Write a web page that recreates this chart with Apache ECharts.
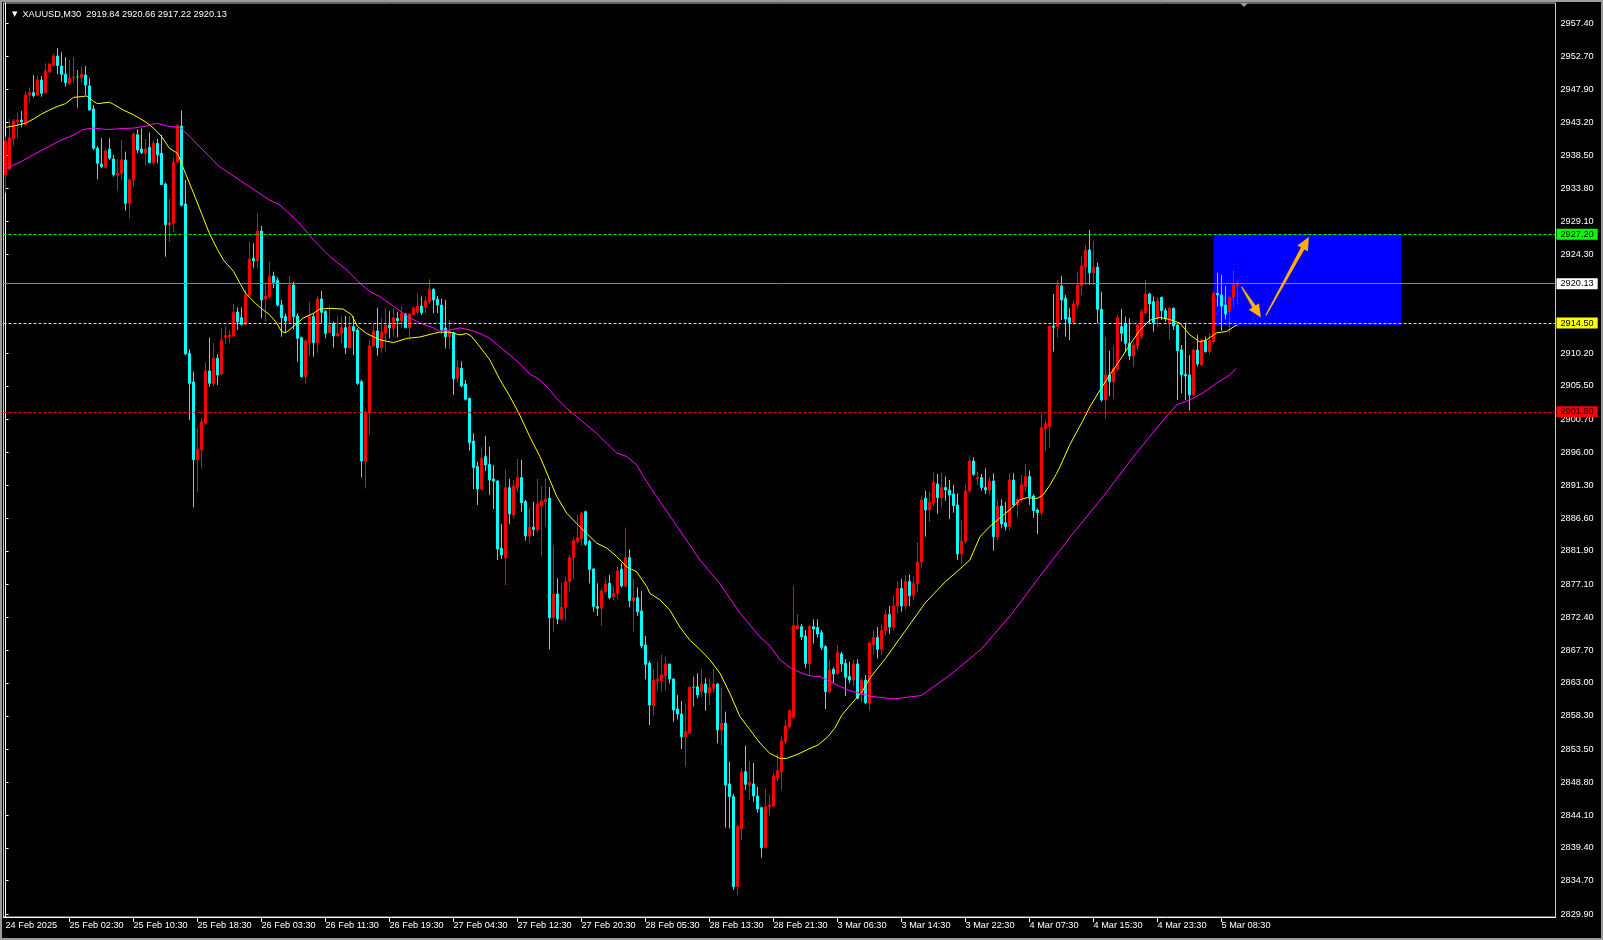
<!DOCTYPE html>
<html><head><meta charset="utf-8">
<script src="https://cdn.jsdelivr.net/npm/echarts@6/dist/echarts.min.js"></script>
<style>html,body{margin:0;padding:0;background:#000;}#c{width:1603px;height:940px;}</style>
</head><body><div id="c"></div><script>
const symbolName = 'XAUUSD,M30';
const opens = [
2935.69,2936.5,2940.89,2943.28,2943.56,2942.94,2947.14,2947.47,2947.14,2949.29,
2947.43,2950.43,2951.43,2952.72,2951.29,2950.1,2948.81,2949.57,2949.72,2949.62,
2950.0,2948.43,2945.14,2939.51,2937.27,2936.79,2939.41,2937.98,2935.64,2935.93,
2937.84,2931.64,2934.98,2941.46,2939.41,2938.79,2939.65,2937.46,2940.22,2938.79,
2934.4,2928.58,2928.78,2937.55,2942.7,2931.54,2910.17,2906.07,2894.95,2896.38,
2900.16,2907.65,2905.78,2909.46,2907.21,2912.46,2912.55,2912.65,2916.08,2915.27,
2914.32,2918.52,2923.76,2923.38,2927.67,2917.94,2918.28,2921.23,2920.57,2917.09,
2915.42,2914.79,2919.95,2915.51,2912.41,2906.83,2911.69,2915.42,2911.69,2917.94,
2916.13,2913.13,2914.46,2912.65,2913.03,2913.84,2910.98,2913.99,2913.51,2906.11,
2894.67,2901.68,2911.22,2913.36,2910.98,2913.03,2914.22,2913.75,2915.18,2914.84,
2915.8,2913.84,2915.75,2916.13,2916.94,2916.75,2917.56,2919.33,2917.9,2917.08,
2913.75,2912.55,2913.13,2906.59,2908.02,2905.78,2903.73,2897.62,2893.95,2890.75,
2895.38,2894.28,2892.18,2891.9,2882.26,2880.93,2890.94,2887.03,2890.94,2892.38,
2888.94,2884.03,2885.27,2884.89,2888.32,2888.94,2889.42,2872.34,2875.73,2872.15,
2873.82,2877.49,2880.93,2883.22,2883.6,2887.51,2883.22,2879.31,2873.92,2873.68,
2876.06,2877.26,2875.35,2875.82,2879.26,2876.87,2880.93,2874.73,2875.2,2873.3,
2868.43,2865.81,2859.74,2863.32,2863.32,2864.04,2865.71,2863.56,2859.27,2858.55,
2855.31,2855.79,2862.37,2862.46,2861.75,2862.85,2861.61,2862.23,2862.85,2856.26,
2857.22,2848.54,2846.72,2833.84,2842.1,2850.3,2848.39,2848.54,2846.82,2845.15,
2839.42,2845.29,2845.39,2849.35,2850.3,2854.59,2856.74,2858.03,2870.72,2871.05,
2869.71,2865.71,2871.05,2870.91,2870.19,2868.19,2861.75,2864.94,2864.37,2867.14,
2865.8,2863.9,2863.42,2865.71,2861.51,2863.42,2860.08,2868.5,2869.5,2867.8,
2870.5,2872.8,2871.0,2874.0,2876.5,2874.0,2877.5,2875.5,2877.2,2880.3,
2889.42,2887.75,2888.71,2891.47,2889.52,2890.95,2890.61,2890.04,2888.47,2881.45,
2883.21,2890.47,2894.76,2892.19,2892.38,2890.95,2890.61,2891.9,2883.93,2888.32,
2885.94,2885.37,2892.04,2888.47,2889.18,2891.09,2892.52,2889.75,2887.75,2887.37,
2899.34,2899.68,2914.08,2913.99,2919.81,2918.04,2915.27,2914.56,2917.09,2919.85,
2922.57,2924.96,2921.71,2922.48,2916.47,2903.49,2907.07,2906.12,2907.88,2913.99,
2914.46,2911.6,2909.79,2911.22,2912.56,2915.99,2918.66,2917.56,2915.18,2918.18,
2916.27,2914.56,2916.61,2914.22,2910.65,2907.16,2907.07,2904.21,2910.65,2908.5,
2911.98,2910.41,2911.84,2918.76,2918.52,2917.09,2916.13,2918.18,2919.84];
const highs = [
2941.18,2943.66,2943.66,2944.61,2944.85,2947.62,2948.19,2950.0,2949.86,2949.86,
2951.67,2951.67,2953.0,2953.82,2953.24,2952.53,2952.15,2952.53,2950.72,2951.2,
2951.29,2949.52,2945.71,2939.84,2940.94,2939.51,2940.94,2938.55,2937.93,2940.7,
2939.03,2935.21,2941.8,2942.23,2942.37,2940.84,2941.75,2940.6,2940.84,2941.42,
2934.59,2932.3,2938.22,2942.94,2944.9,2934.98,2910.74,2907.55,2899.44,2900.97,
2908.88,2912.41,2911.6,2910.03,2913.75,2913.99,2913.51,2917.23,2916.75,2916.75,
2919.23,2926.15,2925.91,2930.3,2928.39,2920.19,2923.29,2921.85,2921.04,2917.8,
2915.89,2921.23,2920.42,2915.89,2912.55,2912.17,2917.56,2915.89,2918.37,2919.09,
2916.37,2916.94,2914.7,2915.51,2915.42,2915.51,2915.51,2915.42,2913.75,2906.35,
2902.15,2912.08,2914.46,2916.7,2915.27,2916.61,2916.23,2916.61,2916.13,2916.85,
2915.89,2915.89,2916.85,2918.75,2918.28,2918.28,2920.76,2919.47,2918.37,2918.0,
2917.8,2914.94,2913.27,2909.21,2908.98,2906.35,2903.82,2898.72,2894.67,2896.72,
2898.34,2896.81,2894.19,2892.04,2885.75,2893.62,2892.18,2892.04,2895.05,2894.9,
2889.18,2887.99,2888.94,2892.18,2891.18,2892.28,2890.99,2882.6,2877.97,2877.35,
2878.21,2881.31,2883.84,2887.03,2887.51,2887.65,2883.46,2879.4,2877.26,2876.54,
2877.97,2878.45,2876.87,2879.74,2880.12,2885.22,2882.12,2877.88,2876.68,2876.16,
2869.72,2866.14,2864.99,2866.04,2867.0,2866.66,2865.71,2863.66,2861.27,2860.41,
2860.08,2862.46,2863.9,2864.37,2864.99,2863.66,2863.66,2864.99,2862.94,2862.32,
2858.89,2851.73,2847.1,2842.67,2850.78,2854.02,2851.83,2851.59,2848.15,2845.29,
2847.82,2846.96,2850.2,2852.78,2855.31,2857.79,2859.22,2876.87,2872.86,2871.43,
2870.57,2871.29,2872.1,2872.1,2870.57,2868.43,2866.28,2865.23,2868.43,2867.47,
2866.38,2866.04,2866.28,2866.38,2863.66,2864.13,2868.9,2870.5,2871.0,2871.5,
2873.5,2874.0,2875.5,2877.6,2877.9,2878.4,2878.5,2878.2,2883.07,2889.66,
2890.52,2890.38,2893.09,2892.9,2893.09,2892.52,2892.04,2891.33,2890.14,2886.32,
2891.42,2895.14,2895.29,2893.24,2892.9,2893.71,2892.43,2892.99,2889.28,2889.28,
2888.94,2892.99,2892.99,2889.42,2892.76,2894.33,2893.38,2889.99,2887.99,2901.49,
2900.63,2914.08,2918.66,2920.66,2921.24,2918.52,2916.61,2917.8,2921.86,2924.0,
2925.67,2927.82,2926.24,2923.14,2918.99,2912.46,2910.5,2911.22,2915.75,2916.51,
2915.42,2915.18,2911.7,2914.37,2916.47,2920.66,2918.85,2918.28,2918.18,2918.28,
2916.61,2916.75,2916.75,2914.46,2911.36,2914.56,2909.93,2910.89,2912.8,2912.32,
2912.56,2913.03,2918.99,2921.71,2921.38,2919.81,2918.28,2921.95,2920.66];
const lows = [
2933.16,2936.41,2939.98,2940.99,2942.51,2942.8,2946.04,2946.8,2947.0,2946.9,
2947.38,2950.24,2951.2,2950.1,2949.05,2948.33,2948.57,2948.9,2945.23,2948.9,
2947.14,2944.9,2939.27,2935.07,2936.65,2936.65,2937.84,2935.45,2933.45,2934.98,
2930.59,2929.49,2934.02,2938.79,2938.7,2937.12,2937.36,2937.12,2937.36,2934.26,
2924.0,2926.15,2927.49,2937.36,2931.16,2909.93,2900.63,2888.13,2890.28,2893.7,
2900.01,2905.4,2905.4,2905.64,2907.07,2911.5,2911.6,2912.55,2913.51,2914.13,
2914.22,2918.28,2922.33,2922.33,2915.18,2914.7,2917.94,2919.47,2916.85,2912.55,
2913.13,2914.46,2913.6,2908.98,2906.69,2905.88,2909.79,2909.69,2910.26,2914.46,
2912.31,2913.03,2910.98,2912.55,2911.6,2910.07,2910.88,2909.93,2905.64,2892.38,
2890.85,2898.48,2911.12,2909.83,2910.26,2910.41,2912.31,2912.55,2912.46,2913.75,
2913.75,2912.46,2915.65,2915.75,2915.65,2915.89,2917.23,2915.89,2915.89,2913.03,
2910.88,2910.74,2904.21,2905.97,2905.3,2903.39,2896.24,2890.75,2888.46,2890.52,
2893.33,2889.9,2887.89,2880.59,2880.74,2877.02,2885.75,2886.56,2890.37,2887.51,
2883.36,2883.07,2884.03,2884.5,2881.07,2885.36,2867.81,2870.34,2871.39,2871.91,
2871.91,2876.06,2877.83,2882.98,2882.74,2882.6,2877.26,2873.2,2872.58,2871.2,
2875.82,2874.97,2874.87,2874.97,2876.68,2876.68,2873.82,2870.34,2872.58,2867.95,
2863.52,2856.98,2858.27,2861.99,2861.75,2861.89,2862.94,2857.46,2857.79,2853.54,
2851.02,2855.69,2859.6,2860.79,2861.03,2859.03,2859.84,2861.61,2854.36,2854.12,
2842.29,2842.19,2833.37,2832.65,2840.52,2847.68,2846.25,2846.01,2844.43,2837.99,
2839.33,2843.96,2845.2,2848.87,2847.68,2854.26,2856.5,2857.93,2870.57,2869.14,
2865.09,2863.99,2868.67,2869.52,2867.71,2859.27,2861.51,2863.04,2864.13,2864.61,
2861.13,2862.94,2862.56,2860.65,2860.17,2859.98,2859.03,2867.0,2866.5,2867.0,
2869.8,2870.0,2870.5,2873.0,2873.2,2873.5,2874.0,2874.8,2876.0,2879.5,
2883.93,2886.08,2888.32,2887.18,2888.08,2889.09,2886.46,2887.37,2880.6,2880.0,
2882.98,2890.23,2892.62,2891.33,2890.52,2890.04,2889.9,2881.93,2883.46,2885.13,
2884.79,2884.79,2888.23,2886.65,2888.8,2890.38,2888.47,2886.65,2884.32,2886.94,
2896.24,2896.67,2910.41,2912.46,2914.94,2912.56,2912.08,2914.22,2916.61,2918.52,
2919.95,2919.95,2919.95,2914.46,2903.25,2900.73,2904.06,2903.59,2907.55,2911.84,
2910.41,2909.22,2908.26,2910.55,2912.17,2915.8,2914.46,2913.27,2913.99,2914.94,
2914.7,2912.08,2913.51,2903.49,2904.45,2903.49,2901.97,2903.97,2908.26,2908.36,
2910.27,2910.03,2911.6,2916.85,2913.41,2915.03,2913.03,2916.75,2917.22];
const closes = [
2940.56,2941.03,2943.42,2943.56,2943.28,2947.14,2947.47,2947.04,2949.29,2947.38,
2950.57,2951.58,2952.72,2951.34,2950.1,2948.9,2949.57,2949.67,2949.72,2950.05,
2948.57,2944.99,2939.51,2937.36,2936.89,2939.13,2938.08,2935.74,2935.93,2937.84,
2931.64,2934.98,2941.56,2939.27,2938.89,2939.41,2937.46,2940.22,2938.55,2934.31,
2928.58,2928.87,2937.5,2942.8,2931.35,2910.08,2905.88,2894.95,2896.43,2900.35,
2907.65,2905.88,2909.46,2907.07,2912.08,2912.7,2912.79,2915.99,2914.65,2914.32,
2918.52,2923.67,2923.38,2927.67,2917.8,2918.37,2921.23,2920.33,2917.09,2915.27,
2914.79,2919.95,2915.42,2912.31,2906.83,2911.93,2915.51,2911.69,2917.94,2916.03,
2913.03,2914.22,2912.65,2913.03,2913.84,2910.98,2913.99,2913.36,2905.88,2894.76,
2901.68,2911.22,2913.36,2910.98,2913.13,2914.22,2913.84,2915.27,2914.84,2915.89,
2913.84,2915.8,2916.61,2916.94,2915.99,2917.66,2919.33,2917.8,2917.09,2913.51,
2912.55,2913.27,2906.5,2908.16,2905.49,2903.59,2897.38,2893.81,2890.75,2895.14,
2894.19,2892.04,2891.9,2882.17,2881.31,2890.94,2887.18,2891.18,2892.38,2888.8,
2884.03,2885.27,2884.98,2888.61,2889.04,2889.32,2872.34,2875.73,2872.15,2873.82,
2877.49,2880.93,2883.36,2883.79,2887.27,2882.84,2879.26,2873.92,2873.68,2876.16,
2877.16,2875.2,2875.82,2879.02,2876.87,2880.93,2874.77,2875.2,2873.2,2868.29,
2865.66,2859.84,2863.42,2863.51,2864.13,2865.71,2863.56,2859.12,2858.55,2855.31,
2856.02,2862.37,2862.37,2861.27,2862.85,2861.61,2862.32,2862.85,2856.26,2857.22,
2848.39,2846.72,2833.84,2842.43,2850.16,2848.49,2848.72,2846.82,2844.96,2839.42,
2845.29,2845.53,2849.68,2850.44,2854.69,2856.84,2859.03,2871.19,2871.19,2869.62,
2865.8,2871.05,2870.72,2870.0,2868.09,2861.75,2864.85,2864.28,2867.33,2865.71,
2863.8,2863.42,2865.71,2860.79,2863.32,2860.17,2868.76,2869.5,2867.8,2870.5,
2872.8,2871.0,2874.0,2876.5,2874.0,2877.5,2875.5,2877.2,2880.3,2889.18,
2887.75,2888.85,2891.71,2889.52,2890.95,2890.61,2889.9,2888.37,2881.45,2883.3,
2890.47,2894.76,2892.86,2892.38,2890.95,2890.61,2891.9,2883.93,2888.32,2885.75,
2885.37,2892.04,2888.47,2889.28,2891.33,2892.52,2889.66,2887.66,2887.37,2899.53,
2900.06,2914.08,2913.89,2919.95,2917.8,2915.08,2914.56,2917.23,2919.95,2922.67,
2924.96,2921.71,2922.48,2916.47,2903.49,2907.07,2906.12,2908.02,2915.27,2913.03,
2911.6,2909.79,2911.36,2914.22,2916.13,2918.66,2917.23,2914.56,2917.66,2916.27,
2915.08,2916.61,2914.08,2910.55,2907.07,2906.93,2904.21,2910.65,2908.64,2912.08,
2910.41,2911.98,2918.76,2918.52,2916.94,2915.8,2918.18,2919.95,2920.13];

// moving averages: [bar index, price]
const fastMa = [[0,2942.5],[2,2942.7],[5,2943.1],[7,2943.7],[9,2944.4],[11,2945.0],[13,2945.5],[15,2945.9],[17,2946.8],[19,2946.9],[20.3,2947.0],[22,2946.2],[23,2945.9],[26,2946.1],[27,2945.8],[29.4,2945.0],[32,2944.3],[35,2943.3],[37,2942.4],[39,2941.2],[41,2939.5],[43,2938.8],[45,2935.9],[47,2933.1],[49,2930.2],[51,2927.3],[53,2925.0],[54.5,2923.5],[57,2921.9],[58.6,2920.2],[60,2918.8],[62.5,2917.3],[64.4,2916.4],[66,2915.7],[67.8,2914.5],[69,2913.3],[70,2913.1],[72,2914.0],[74.4,2915.2],[77,2915.9],[78.6,2916.5],[81,2916.6],[84.4,2916.5],[86.5,2915.7],[88,2914.0],[90.3,2913.0],[93.6,2912.1],[97,2911.7],[100.3,2912.3],[103.6,2912.5],[107,2913.0],[108.6,2913.2],[111.1,2913.2],[113.6,2912.8],[115.3,2913.0],[116.5,2912.6],[118.6,2911.1],[121.1,2909.2],[123.6,2906.4],[126.1,2904.0],[128.6,2901.3],[131.1,2898.2],[133.6,2895.4],[136.1,2892.0],[137.8,2889.7],[140.3,2887.3],[142.8,2885.8],[145.3,2884.4],[147.8,2883.0],[150.3,2882.3],[152.8,2881.1],[155.3,2879.6],[157.8,2878.9],[160.3,2876.8],[161.1,2875.8],[163.6,2874.9],[166.1,2873.4],[168.6,2871.0],[171.1,2869.1],[173.6,2867.8],[176.1,2866.3],[178.6,2864.4],[181.1,2861.5],[183.6,2858.2],[186.1,2856.3],[188.6,2854.4],[191.1,2852.9],[193.6,2852.2],[195.3,2852.2],[198.1,2852.8],[200.6,2853.5],[203.1,2854.1],[205.6,2855.3],[207.3,2856.5],[209.1,2858.4],[211.6,2860.1],[214.1,2861.7],[216.1,2863.7],[220,2866.5],[225,2870.5],[230,2874.5],[235,2877.5],[238,2879.0],[241.1,2880.6],[243.6,2883.9],[246.1,2885.4],[248.6,2886.6],[251.1,2887.8],[253.6,2889.2],[255.3,2889.5],[257.9,2889.4],[259.4,2889.9],[261.1,2891.3],[262.8,2893.0],[263.6,2893.9],[266,2897.0],[269.4,2900.6],[271.1,2902.5],[273.6,2904.9],[276.1,2907.1],[278.6,2909.2],[281.1,2911.4],[283.6,2913.5],[286.1,2914.9],[288.6,2915.3],[291.1,2915.0],[293.6,2914.5],[296.1,2912.8],[298.6,2911.8],[300.3,2912.1],[302.8,2913.1],[305.3,2913.3],[307.4,2914.1],[308,2914.2]];
const slowMa = [[0,2936.6],[3.6,2937.5],[7,2938.6],[11,2939.8],[14,2940.7],[17,2941.4],[19.4,2942.2],[22,2942.4],[25.3,2942.2],[28.6,2942.3],[32,2942.4],[35.3,2942.7],[37.8,2943.1],[40.3,2942.7],[43.6,2942.5],[46.1,2941.2],[48.6,2939.7],[51.1,2938.3],[53.2,2937.0],[66,2932.1],[68.6,2931.4],[72.8,2929.2],[77,2926.4],[81.1,2924.0],[85.3,2922.1],[88.6,2920.2],[91.1,2919.0],[93.6,2918.3],[97,2916.9],[100.3,2915.5],[103.6,2914.5],[107,2913.8],[108.6,2913.3],[111.1,2913.5],[113.6,2913.8],[116.1,2913.5],[118.6,2913.0],[121.1,2912.3],[123.6,2911.1],[126.1,2909.9],[128.6,2908.7],[131.1,2907.2],[133.6,2906.4],[136.1,2904.9],[137.8,2903.7],[140.3,2902.3],[142.8,2901.1],[145.3,2899.9],[147.8,2898.7],[150.3,2897.3],[152.8,2895.9],[155.3,2895.4],[157.8,2894.2],[159.5,2892.5],[161.1,2891.1],[173.6,2880.6],[176.1,2878.9],[178.6,2877.2],[181.1,2875.1],[183.6,2873.0],[186.1,2871.3],[188.6,2869.6],[191.1,2868.3],[193.6,2866.3],[196.1,2865.2],[198.6,2864.5],[201.1,2864.0],[203.6,2863.9],[206.1,2863.2],[208.6,2862.5],[211.1,2861.9],[213.6,2861.5],[216.1,2861.1],[222,2860.7],[229,2861.2],[236.3,2864.2],[243.9,2867.8],[251.6,2872.9],[259.3,2878.8],[266.9,2884.4],[274.6,2889.8],[282.3,2895.6],[289.4,2900.6],[292.8,2902.8],[296.1,2903.5],[299.4,2904.5],[302.8,2905.9],[306.1,2907.1],[307.6,2908.0]];

const xTickLabels = ['24 Feb 2025','25 Feb 02:30','25 Feb 10:30','25 Feb 18:30','26 Feb 03:30','26 Feb 11:30','26 Feb 19:30','27 Feb 04:30','27 Feb 12:30','27 Feb 20:30','28 Feb 05:30','28 Feb 13:30','28 Feb 21:30','3 Mar 06:30','3 Mar 14:30','3 Mar 22:30','4 Mar 07:30','4 Mar 15:30','4 Mar 23:30','5 Mar 08:30'];
const yTickValues = [2957.40,2952.70,2947.90,2943.20,2938.50,2933.80,2929.10,2924.30,2910.20,2905.50,2900.70,2896.00,2891.30,2886.60,2881.90,2877.10,2872.40,2867.70,2863.00,2858.30,2853.50,2848.80,2844.10,2839.40,2834.70,2829.90];
const levelGreen = 2927.20, levelYellow = 2914.50, levelRed = 2901.80;
const zoneBox = [[302, 2927.2], [349, 2914.2]];
const arrowList = [[309.0, 2919.7, 313.85, 2915.3], [315.1, 2915.6, 325.85, 2926.8]];
const slotCount = 388, labelStep = 16;
const yMin = 2829.5, yMax = 2960.3;

const categories = Array.from({length: slotCount}, (_, i) => String(i));
const candleData = opens.map((o, i) => [o, closes[i], lows[i], highs[i]]);
const last = opens.length - 1;
const currentPrice = closes[last];
const FONT = 'Liberation Sans';
const FS = 9.2;

function levelLine(v, color, bg, type) {
  return {
    yAxis: v,
    lineStyle: {color: color, type: type, width: 1},
    label: {show: true, position: 'end', distance: 1, formatter: v.toFixed(2),
      backgroundColor: bg, color: '#000', fontFamily: FONT, fontSize: FS,
      padding: [1, 4, 0, 4], lineHeight: 10}
  };
}

const chart = echarts.init(document.getElementById('c'), null, {renderer: 'canvas'});
chart.setOption({
  animation: false,
  backgroundColor: '#000000',
  title: {
    left: 7, top: 5,
    text: '{t|▼}  ' + symbolName + '  ' + [opens[last], highs[last], lows[last], closes[last]].map(v => v.toFixed(2)).join(' '),
    textStyle: {color: '#ffffff', fontFamily: FONT, fontSize: FS, fontWeight: 'normal',
      rich: {t: {fontSize: 7, color: '#ffffff', fontFamily: 'DejaVu Sans'}}}
  },
  grid: {left: 3.5, right: 47.5, top: 3, bottom: 23, show: true, borderColor: '#c8c8c8', borderWidth: 1, backgroundColor: '#000'},
  xAxis: [{
    type: 'category', data: categories, boundaryGap: true,
    axisLine: {lineStyle: {color: '#ffffff', width: 1}},
    axisTick: {show: true, alignWithLabel: true, length: 5, lineStyle: {color: '#ffffff'},
      interval: (i) => i % labelStep === 0 && i / labelStep < xTickLabels.length && i > 0},
    axisLabel: {color: '#ffffff', fontFamily: FONT, fontSize: FS, align: 'left', margin: 4,
      interval: (i) => i % labelStep === 0 && i / labelStep < xTickLabels.length,
      formatter: (v, i) => xTickLabels[Number(v) / labelStep] || ''},
    splitLine: {show: false}
  }, {
    type: 'value', min: -0.5, max: slotCount - 0.5, show: false
  }],
  yAxis: {
    type: 'value', position: 'right', min: yMin, max: yMax, scale: true,
    axisLine: {show: true, lineStyle: {color: '#ffffff', width: 1}},
    axisTick: {show: true, length: 3, lineStyle: {color: '#ffffff'}, customValues: yTickValues},
    axisLabel: {color: '#ffffff', fontFamily: FONT, fontSize: FS, margin: 5, customValues: yTickValues,
      formatter: (v) => v.toFixed(2)},
    splitLine: {show: false}
  },
  series: [{
    type: 'line', xAxisIndex: 1, data: [], z: 1, silent: true,
    markArea: {silent: true, itemStyle: {color: '#0000ff', opacity: 1},
      data: [[{coord: zoneBox[0]}, {coord: zoneBox[1]}]]}
  }, {
    type: 'candlestick', name: symbolName, data: candleData, z: 3, barWidth: 2, silent: true,
    itemStyle: {color: '#ff0000', color0: '#00ffff', borderColor: '#ff0000', borderColor0: '#00ffff',
      borderColorDoji: '#00ff00', borderWidth: 1}
  }, {
    type: 'line', xAxisIndex: 1, data: fastMa, showSymbol: false, z: 4, silent: true,
    lineStyle: {color: '#ffff00', width: 1}
  }, {
    type: 'line', xAxisIndex: 1, data: slowMa, showSymbol: false, z: 4, silent: true,
    lineStyle: {color: '#ff00ff', width: 1}
  }, {
    type: 'line', xAxisIndex: 1, data: [], z: 5, silent: true,
    markLine: {silent: true, symbol: 'none', animation: false,
      data: [
        levelLine(levelGreen, '#00ff00', '#00ff00', [3, 2]),
        levelLine(currentPrice, '#778899', '#ffffff', 'solid'),
        levelLine(levelYellow, '#ffff00', '#ffff00', [3, 2]),
        levelLine(levelRed, '#ff0000', '#ff0000', [3, 2])
      ]}
  }, {
    type: 'custom', xAxisIndex: 1, data: arrowList, z: 6, silent: true,
    encode: {x: [0, 2], y: [1, 3]},
    renderItem: function (params, api) {
      const p1 = api.coord([api.value(0), api.value(1)]);
      const p2 = api.coord([api.value(2), api.value(3)]);
      const dx = p2[0] - p1[0], dy = p2[1] - p1[1];
      const len = Math.sqrt(dx * dx + dy * dy);
      const ux = dx / len, uy = dy / len, nx = -uy, ny = ux;
      const head = 13, hw = 6, tail = 0.6, neck = 2;
      const bx = p2[0] - ux * head, by = p2[1] - uy * head;
      return {
        type: 'polygon',
        shape: {points: [
          [p1[0] + nx * tail, p1[1] + ny * tail],
          [bx + nx * neck, by + ny * neck],
          [bx + nx * hw, by + ny * hw],
          [p2[0], p2[1]],
          [bx - nx * hw, by - ny * hw],
          [bx - nx * neck, by - ny * neck],
          [p1[0] - nx * tail, p1[1] - ny * tail]
        ]},
        style: {fill: '#ffb000'}
      };
    }
  }],
  graphic: [{
    type: 'rect', silent: true, z: 9,
    shape: {x: 1, y: 1, width: 1601, height: 938},
    style: {fill: null, stroke: '#9a9a9a', lineWidth: 2}
  }, {
    type: 'polygon', silent: true, z: 10,
    shape: {points: [[1240, 3], [1248, 3], [1244, 7]]},
    style: {fill: '#9a9a9a'}
  }]
});
</script></body></html>
